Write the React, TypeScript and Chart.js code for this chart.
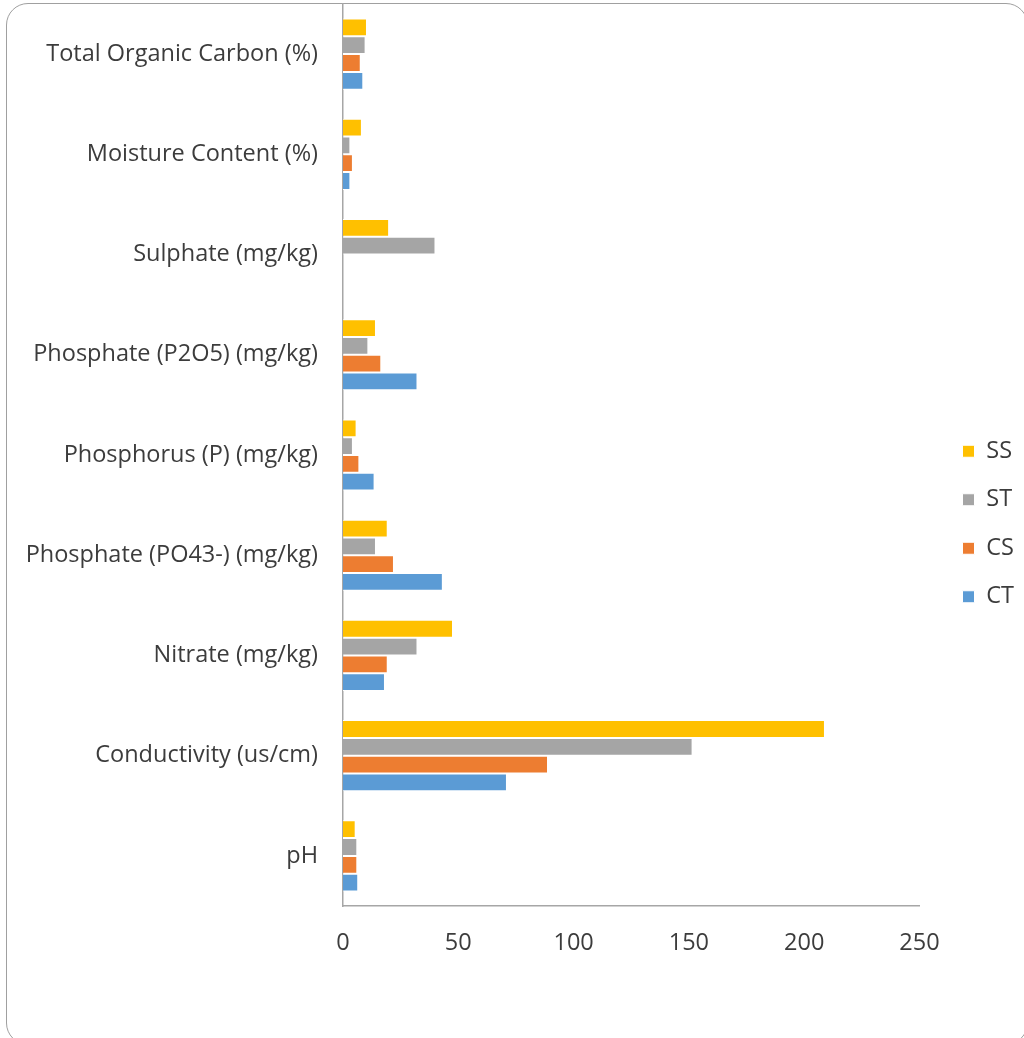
import React, { useEffect, useRef } from "react";
import { Chart, registerables } from "chart.js";

Chart.register(...registerables);

// Categories, listed top to bottom as drawn
const categories = [
  "Total Organic Carbon (%)",
  "Moisture Content (%)",
  "Sulphate (mg/kg)",
  "Phosphate (P2O5) (mg/kg)",
  "Phosphorus (P) (mg/kg)",
  "Phosphate (PO43-) (mg/kg)",
  "Nitrate (mg/kg)",
  "Conductivity (us/cm)",
  "pH",
];

const seriesNames = ["SS", "ST", "CS", "CT"];

const ssValues = [10.4, 8.2, 20.0, 14.3, 5.9, 19.4, 47.7, 209.0, 5.5];
const stValues = [9.8, 3.2, 40.1, 11.0, 4.3, 14.3, 32.3, 151.6, 6.2];
const csValues = [7.7, 4.3, 0, 16.6, 7.1, 22.1, 19.4, 88.9, 6.2];
const ctValues = [8.8, 3.2, 0, 32.3, 13.7, 43.3, 18.2, 71.1, 6.6];

const seriesColors = ["#FFC000", "#A5A5A5", "#ED7D31", "#5B9BD5"];

const xTicks = [0, 50, 100, 150, 200, 250];

const FONT = "'Open Sans', 'Noto Sans', sans-serif";
const FONT_SIZE = 23.5;
const TEXT = "#3c3c3c";
const AXIS = "#a6a6a6";

export default function App() {
  const ref = useRef<HTMLCanvasElement>(null);

  useEffect(() => {
    const values = [ssValues, stValues, csValues, ctValues];
    const chart = new Chart(ref.current as HTMLCanvasElement, {
      type: "bar",
      data: {
        labels: categories,
        datasets: seriesNames.map((name, i) => ({
          label: name,
          data: values[i],
          backgroundColor: seriesColors[i],
          borderColor: "#ffffff",
          borderWidth: 1,
          categoryPercentage: 0.71,
          barPercentage: 1.0,
          xAxisID: "x",
          yAxisID: "y",
        })),
      },
      options: {
        indexAxis: "y",
        animation: false,
        responsive: true,
        maintainAspectRatio: false,
        layout: { padding: { top: 4, right: 0, bottom: -6, left: 0 } },
        scales: {
          x: {
            type: "linear",
            position: "bottom",
            min: xTicks[0],
            max: xTicks[xTicks.length - 1],
            ticks: {
              stepSize: 50,
              font: { family: FONT, size: FONT_SIZE },
              color: TEXT,
              padding: 23,
            },
            grid: { display: false, drawTicks: false },
            border: { display: true, color: AXIS, width: 1.5 },
            afterFit: (s: any) => {
              s.height = 138;
            },
          },
          y: {
            type: "category",
            position: "left",
            ticks: {
              font: { family: FONT, size: FONT_SIZE },
              color: TEXT,
              padding: 25,
              autoSkip: false,
            },
            grid: { display: false, drawTicks: false },
            border: { display: true, color: AXIS, width: 1.5 },
            afterFit: (s: any) => {
              s.width = 343;
              s.paddingTop = 0;
              s.paddingBottom = 0;
            },
          },
          gap: {
            type: "linear",
            position: "right",
            display: true,
            grid: { display: false, drawTicks: false },
            border: { display: false },
            ticks: { display: false },
            afterFit: (s: any) => {
              s.width = 18;
              s.paddingTop = 0;
              s.paddingBottom = 0;
            },
          },
        },
        plugins: {
          legend: {
            position: "right",
            align: "center",
            labels: {
              boxWidth: 12,
              boxHeight: 12,
              padding: 25,
              font: { family: FONT, size: FONT_SIZE },
              color: TEXT,
            },
          },
          tooltip: { enabled: false },
          title: { display: false },
        },
      },
    } as any);
    return () => chart.destroy();
  }, []);

  return (
    <div
      style={{
        position: "absolute",
        left: 0,
        top: 0,
        width: 1024,
        height: 1038,
        overflow: "hidden",
        background: "#ffffff",
      }}
    >
      <div
        style={{
          position: "absolute",
          left: 6,
          top: 3,
          width: 1022,
          height: 1042,
          border: "1.5px solid #a0a0a0",
          borderRadius: 22,
          boxSizing: "border-box",
        }}
      />
      <div style={{ position: "absolute", left: 0, top: 0, width: 1024, height: 1038 }}>
        <canvas ref={ref} />
      </div>
    </div>
  );
}
